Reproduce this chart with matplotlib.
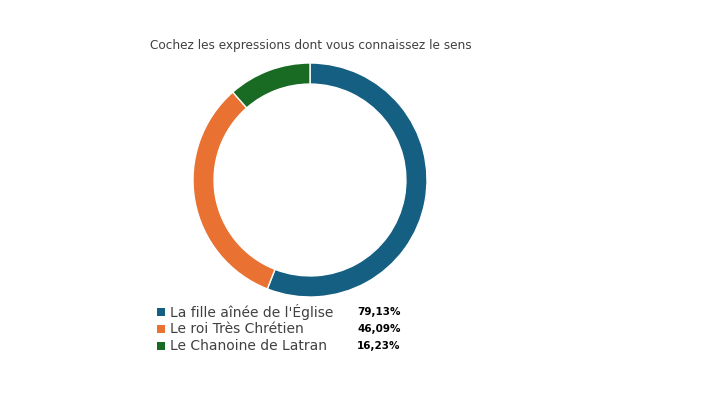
import matplotlib
matplotlib.use("Agg")
import matplotlib.pyplot as plt

title = "Cochez les expressions dont vous connaissez le sens"
labels = ["La fille aînée de l'Église", "Le roi Très Chrétien", "Le Chanoine de Latran"]
values = [79.13, 46.09, 16.23]
pct_labels = ["79,13%", "46,09%", "16,23%"]
colors = ["#156082", "#E97132", "#196B24"]

W, H = 720, 405
fig = plt.figure(figsize=(W/100, H/100), dpi=100)
cx, cy, r = 310, 180, 117
ax = fig.add_axes([(cx-r)/W, 1-(cy+r)/H, 2*r/W, 2*r/H])
ax.pie(values, colors=colors, startangle=90, counterclock=False,
       wedgeprops=dict(width=0.18, edgecolor="white", linewidth=1))
ax.set_xlim(-1, 1)
ax.set_ylim(-1, 1)
ax.set_aspect("equal")
ax.axis("off")

fig.text(150/W, 1-45/H, title, fontsize=8.7, color="#404040", va="center", ha="left")
for i, (lab, p, c) in enumerate(zip(labels, pct_labels, colors)):
    y = 1-(312+17*i)/H
    fig.patches.append(plt.Rectangle((157/W, y-4/H), 8/W, 8/H, transform=fig.transFigure,
                                     facecolor=c, edgecolor="none"))
    fig.text(170/W, y, lab, fontsize=10, color="#404040", va="center", ha="left")
    fig.text(357/W, y, p, fontsize=7.5, fontweight="bold", color="black", va="center", ha="left")

fig.savefig("out.png", dpi=100, facecolor="white")
